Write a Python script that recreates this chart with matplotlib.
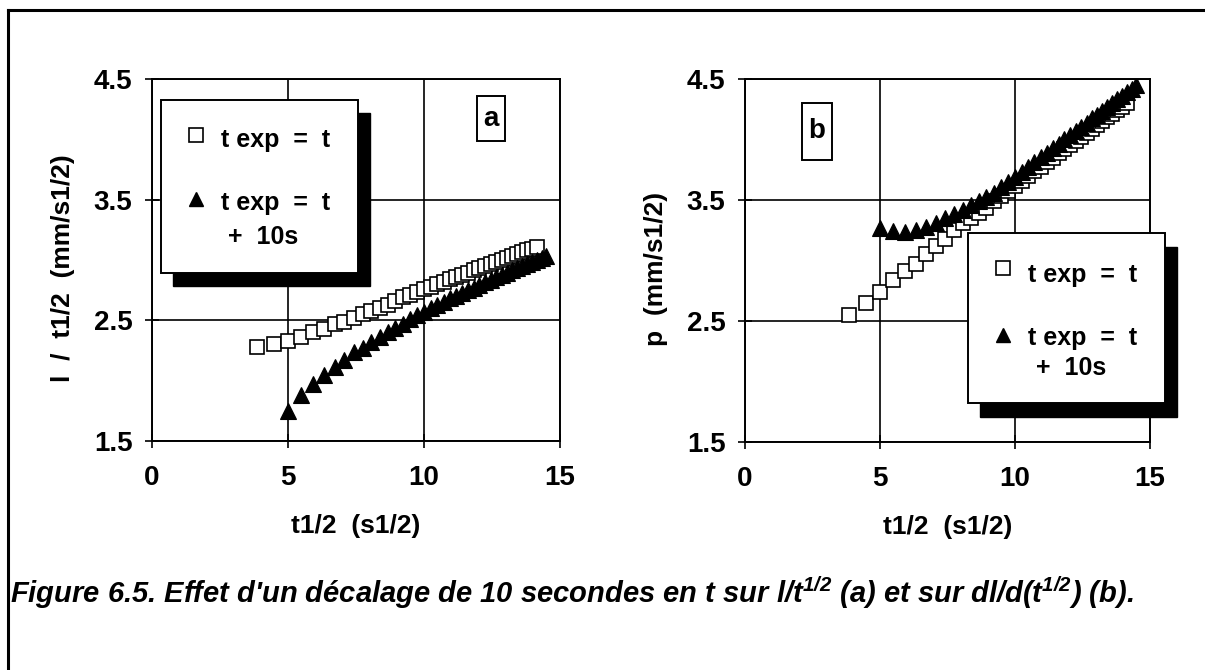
import matplotlib
matplotlib.use("Agg")
import matplotlib.pyplot as plt
from matplotlib.patches import Rectangle

plt.rcParams['font.family'] = ['Liberation Sans', 'DejaVu Sans']
plt.rcParams['mathtext.fontset'] = 'custom'
plt.rcParams['mathtext.rm'] = 'Liberation Sans:bold:italic'
plt.rcParams['mathtext.it'] = 'Liberation Sans:bold:italic'
plt.rcParams['mathtext.bf'] = 'Liberation Sans:bold:italic'

# ---------------- data ----------------
# t^1/2 abscissae, experiment time t exp = t
x_t = [3.87, 4.47, 5.00, 5.48, 5.92, 6.32, 6.71, 7.07, 7.42, 7.75,
       8.06, 8.37, 8.66, 8.94, 9.22, 9.49, 9.75, 10.00, 10.25, 10.49,
       10.72, 10.95, 11.18, 11.40, 11.62, 11.83, 12.04, 12.25, 12.45, 12.65,
       12.85, 13.04, 13.23, 13.42, 13.60, 13.78, 13.96, 14.14]
# t^1/2 abscissae, experiment time t exp = t + 10 s
x_t10 = [5.00, 5.48, 5.92, 6.32, 6.71, 7.07, 7.42, 7.75, 8.06, 8.37,
         8.66, 8.94, 9.22, 9.49, 9.75, 10.00, 10.25, 10.49, 10.72, 10.95,
         11.18, 11.40, 11.62, 11.83, 12.04, 12.25, 12.45, 12.65, 12.85, 13.04,
         13.23, 13.42, 13.60, 13.78, 13.96, 14.14, 14.32, 14.49]

# (a) l / t^1/2
a_t = [2.28, 2.30, 2.33, 2.365, 2.40, 2.43, 2.47, 2.49, 2.52, 2.55,
       2.58, 2.605, 2.63, 2.66, 2.69, 2.71, 2.735, 2.757, 2.78, 2.80,
       2.82, 2.84, 2.86, 2.875, 2.895, 2.915, 2.93, 2.95, 2.965, 2.985,
       3.00, 3.02, 3.035, 3.05, 3.065, 3.08, 3.095, 3.11]
a_t10 = [1.75, 1.878, 1.969, 2.048, 2.117, 2.173, 2.234, 2.273, 2.318, 2.361,
         2.402, 2.437, 2.470, 2.508, 2.544, 2.571, 2.602, 2.629, 2.656, 2.681,
         2.705, 2.729, 2.752, 2.770, 2.793, 2.816, 2.834, 2.856, 2.874, 2.896,
         2.913, 2.935, 2.952, 2.969, 2.985, 3.002, 3.019, 3.035]

# (b) p = dl/d(t^1/2)
b_t = [2.55, 2.65, 2.74, 2.835, 2.91, 2.975, 3.05, 3.12, 3.18, 3.25,
       3.31, 3.35, 3.39, 3.43, 3.49, 3.535, 3.577, 3.619, 3.66, 3.70,
       3.738, 3.775, 3.813, 3.85, 3.886, 3.92, 3.955, 3.99, 4.023, 4.056,
       4.089, 4.12, 4.152, 4.183, 4.213, 4.242, 4.272, 4.30]
b_t10 = [3.27, 3.24, 3.235, 3.25, 3.28, 3.31, 3.35, 3.385, 3.42, 3.455,
         3.49, 3.525, 3.56, 3.606, 3.65, 3.692, 3.734, 3.775, 3.814, 3.852,
         3.891, 3.928, 3.966, 4.001, 4.037, 4.072, 4.106, 4.14, 4.174, 4.206,
         4.238, 4.27, 4.30, 4.331, 4.361, 4.391, 4.421, 4.45]

x_ticks = [0, 5, 10, 15]
y_ticks = [1.5, 2.5, 3.5, 4.5]
x_label = "t1/2  (s1/2)"
y_label_a = "l  /  t1/2  (mm/s1/2)"
y_label_b = "p  (mm/s1/2)"
leg_1 = "t exp  =  t"
leg_2 = "t exp  =  t"
leg_2b = "+  10s"
caption = ("Figure 6.5. Effet d'un décalage de 10 secondes en t sur l/t$^{1/2}$ "
           "(a) et sur dl/d(t$^{1/2}$) (b).")

W, H = 1205, 670
fig = plt.figure(figsize=(W / 100, H / 100), dpi=100)
fig.patch.set_facecolor('white')


def make_axes(l, r, t, b):
    return fig.add_axes([l / W, 1 - b / H, (r - l) / W, (b - t) / H])


def style(ax, xs_a, ys_a, xs_b, ys_b, ylabel, ylab_x):
    ax.set_xlim(0, 15)
    ax.set_ylim(1.5, 4.5)
    ax.set_xticks(x_ticks)
    ax.set_yticks(y_ticks)
    ax.set_xticklabels([str(v) for v in x_ticks], fontsize=20, fontweight='bold')
    ax.set_yticklabels([f"{v:.1f}" for v in y_ticks], fontsize=20, fontweight='bold')
    ax.tick_params(axis='both', direction='inout', length=10, width=1.2, color='black')
    ax.tick_params(axis='x', pad=12)
    ax.tick_params(axis='y', pad=9)
    ax.grid(True, color='black', linewidth=1.2)
    ax.set_axisbelow(True)
    for s in ax.spines.values():
        s.set_linewidth(1.4)
        s.set_color('black')
    ax.plot(xs_a, ys_a, linestyle='none', marker='s', markersize=10.5,
            markerfacecolor='white', markeredgecolor='black', markeredgewidth=1.2, zorder=3)
    ax.plot(xs_b, ys_b, linestyle='none', marker='^', markersize=11,
            markerfacecolor='black', markeredgecolor='black', markeredgewidth=0.8, zorder=4)
    ax.set_xlabel(x_label, fontsize=19, fontweight='bold')
    ax.xaxis.set_label_coords(0.5, -(526 - 441) / 362)
    ax.xaxis.label.set_va('center')
    ax.set_ylabel(ylabel, fontsize=19, fontweight='bold')
    ax.yaxis.set_label_coords(ylab_x, (441 - 268) / 362)
    ax.yaxis.label.set_va('center')


ax1 = make_axes(152, 560, 79, 441)
style(ax1, x_t, a_t, x_t10, a_t10, y_label_a, (63 - 152) / 408)
ax2 = make_axes(745, 1150, 79, 442)
style(ax2, x_t, b_t, x_t10, b_t10, y_label_b, (656 - 745) / 405)

# overlay in pixel coordinates for legends, tags, frame and caption
ov = fig.add_axes([0, 0, 1, 1], zorder=10)
ov.set_xlim(0, W)
ov.set_ylim(H, 0)
ov.axis('off')
ov.patch.set_alpha(0)


def legend_box(x0, y0, w, h, dx, dy, rows):
    ov.add_patch(Rectangle((x0 + dx, y0 + dy), w, h, facecolor='black', edgecolor='black'))
    ov.add_patch(Rectangle((x0, y0), w, h, facecolor='white', edgecolor='black', linewidth=1.4))
    for kind, mx, my, tx, ty, txt, ha in rows:
        if kind == 's':
            ov.plot([mx], [my], marker='s', markersize=10, markerfacecolor='white',
                    markeredgecolor='black', markeredgewidth=1.2, linestyle='none')
        elif kind == '^':
            ov.plot([mx], [my], marker='^', markersize=10, markerfacecolor='black',
                    markeredgecolor='black', linestyle='none')
        ov.text(tx, ty, txt, fontsize=18, fontweight='bold', ha=ha, va='center')


legend_box(161, 100, 197, 173, 12, 13, [
    ('s', 196, 135, 221, 140, leg_1, 'left'),
    ('^', 196, 199, 221, 203, leg_2, 'left'),
    ('', 0, 0, 263, 237, leg_2b, 'center'),
])
legend_box(968, 233, 197, 170, 12, 14, [
    ('s', 1003, 268, 1028, 275, leg_1, 'left'),
    ('^', 1003, 335, 1028, 338, leg_2, 'left'),
    ('', 0, 0, 1071, 368, leg_2b, 'center'),
])

# panel tags
ov.add_patch(Rectangle((477, 96), 28, 45, facecolor='white', edgecolor='black', linewidth=1.4))
ov.text(491, 119, 'a', fontsize=20, fontweight='bold', ha='center', va='center')
ov.add_patch(Rectangle((802, 103), 30, 57, facecolor='white', edgecolor='black', linewidth=1.4))
ov.text(817, 131, 'b', fontsize=20, fontweight='bold', ha='center', va='center')

# outer frame (top and left edges visible)
ov.plot([8, W], [10, 10], color='black', linewidth=2.2)
ov.plot([8, 8], [10, H], color='black', linewidth=2.2)

# caption
ov.text(10, 593, caption, fontsize=21, fontweight='bold', fontstyle='italic',
        ha='left', va='center')

fig.savefig('out.png', dpi=100)
